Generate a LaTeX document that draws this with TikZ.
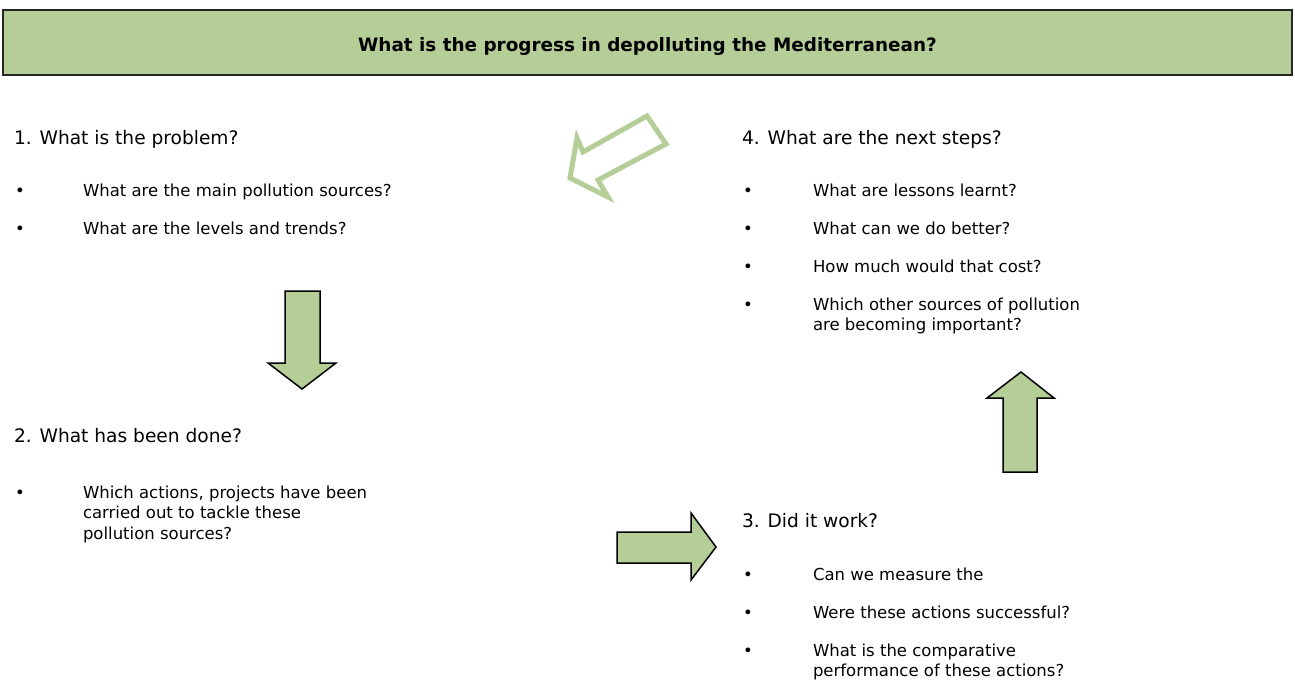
\documentclass[tikz,border=0pt]{standalone}
\usepackage{fontspec}
\setmainfont{DejaVu Sans}
\definecolor{leaf}{RGB}{181,205,151}
\begin{document}
\begin{tikzpicture}[x=1pt,y=-1pt,
  txt/.style={anchor=north west, inner sep=0pt, outer sep=0pt, align=left,
              font=\fontsize{16.5}{20.5}\selectfont},
  head/.style={anchor=base west, inner sep=0pt, outer sep=0pt,
              font=\fontsize{18.6}{22}\selectfont},
  bul/.style={anchor=base, inner sep=0pt, font=\fontsize{16.5}{20.5}\selectfont},
  bar/.style={draw=black!85, line width=1.8pt, fill=leaf, inner sep=0pt},
  solidarrow/.style={draw=black, line width=1.5pt, fill=leaf, line join=miter},
  hollowarrow/.style={draw=leaf, line width=5pt, fill=none, line join=miter}]
\useasboundingbox (0,0) rectangle (1295,682);

% title bar
\node[bar, minimum width=1289pt, minimum height=65pt] (bar) at (647.5,42.5) {};
\node[anchor=base, inner sep=0pt, font=\fontsize{18.4}{22}\selectfont\bfseries] (title) at (647.5,52) {What is the progress in depolluting the Mediterranean?};

% section 1
\node[head] (h1) at (14,144.5) {1. What is the problem?};
\node[bul] (b11) at (20,196) {•};
\node[txt] (t11) at (83,183.5) {What are the main pollution sources?};
\node[bul] (b12) at (20,234) {•};
\node[txt] (t12) at (83,221.5) {What are the levels and trends?};

% section 2
\node[head] (h2) at (14,442.5) {2. What has been done?};
\node[bul] (b21) at (20,498) {•};
\node[txt] (t21) at (83,485.5) {Which actions, projects have been\\carried out to tackle these\\pollution sources?};

% section 4
\node[head] (h4) at (742,144.5) {4. What are the next steps?};
\node[bul] (b41) at (748,196) {•};
\node[txt] (t41) at (813,183.5) {What are lessons learnt?};
\node[bul] (b42) at (748,234) {•};
\node[txt] (t42) at (813,221.5) {What can we do better?};
\node[bul] (b43) at (748,272) {•};
\node[txt] (t43) at (813,259.5) {How much would that cost?};
\node[bul] (b44) at (748,310) {•};
\node[txt] (t44) at (813,297.5) {Which other sources of pollution\\are becoming important?};

% section 3
\node[head] (h3) at (742,527.5) {3. Did it work?};
\node[bul] (b31) at (748,580) {•};
\node[txt] (t31) at (813,567.5) {Can we measure the};
\node[bul] (b32) at (748,618) {•};
\node[txt] (t32) at (813,605.5) {Were these actions successful?};
\node[bul] (b33) at (748,656) {•};
\node[txt] (t33) at (813,643.5) {What is the comparative\\performance of these actions?};

% hollow arrow (4 -> 1)
\draw[hollowarrow] (647,116) -- (666,144) -- (598,180) -- (608,197) -- (570,178) -- (577,138) -- (583,152) -- cycle;

% down arrow (1 -> 2)
\draw[solidarrow] (285,291) -- (320,291) -- (320,363) -- (336,363) -- (302,389) -- (268,363) -- (285,363) -- cycle;

% right arrow (2 -> 3)
\draw[solidarrow] (617,532) -- (691,532) -- (691,513) -- (716,547) -- (691,580) -- (691,563) -- (617,563) -- cycle;

% up arrow (3 -> 4)
\draw[solidarrow] (1003,472) -- (1003,398) -- (987,398) -- (1021,372) -- (1054,398) -- (1037,398) -- (1037,472) -- cycle;
\end{tikzpicture}
\end{document}
